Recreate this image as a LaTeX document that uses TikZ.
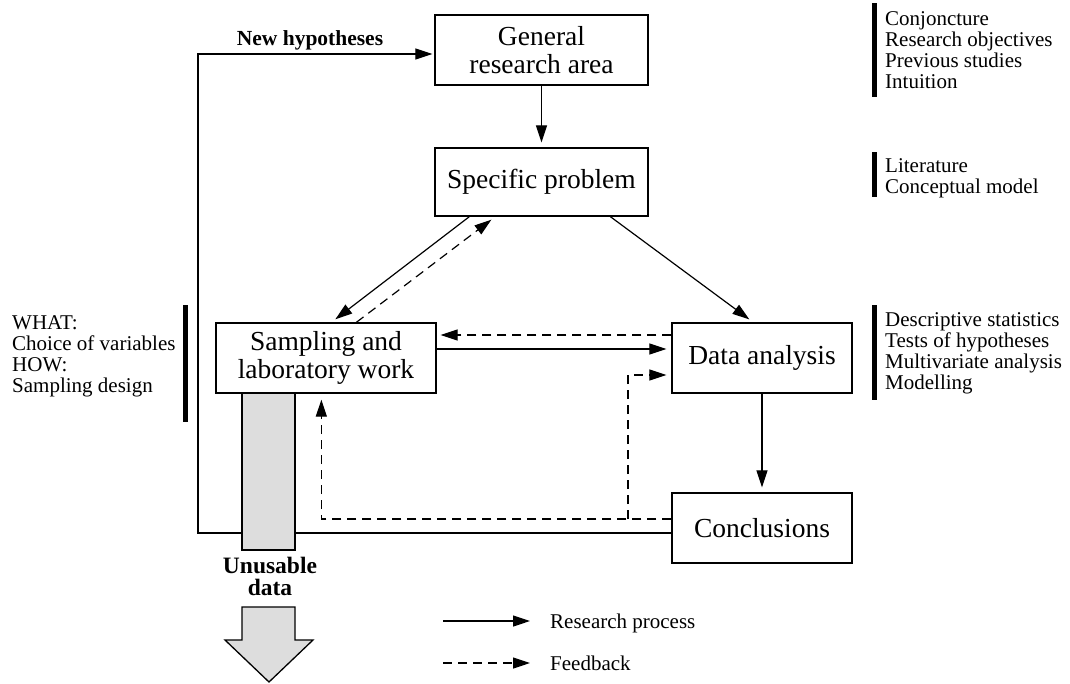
\documentclass[tikz,border=0pt]{standalone}
\usepackage{fontspec}
\setmainfont{Liberation Serif}
\usetikzlibrary{arrows.meta,calc}
\definecolor{barfill}{RGB}{221,221,221}

\begin{document}
\begin{tikzpicture}[x=1pt,y=-1pt,
  box/.style={draw,line width=1.3pt,align=center,inner sep=0pt,
    font=\fontsize{27.5}{28}\selectfont},
  flow/.style={line width=1.2pt,-{Triangle[length=17pt,width=11pt]},shorten >=5pt},
  fb/.style={flow,dash pattern=on 9pt off 6pt},
  side/.style={anchor=base west,align=left,inner sep=0pt,
    font=\fontsize{21}{21}\selectfont},
  grey/.style={draw,line width=1.3pt,fill=barfill}]

\useasboundingbox (0,0) rectangle (1070,683);

% main boxes
\node[box,minimum width=213pt,minimum height=70pt] (gen) at (541.5,50) {General\\research area};
\node[box,minimum width=213pt,minimum height=68pt] (spec) at (541.5,182) {Specific problem};
\node[box,minimum width=220pt,minimum height=70pt] (samp) at (326,358) {Sampling and\\laboratory work};
\node[box,minimum width=180pt,minimum height=70pt] (data) at (762,358) {Data analysis};
\node[box,minimum width=180pt,minimum height=70pt] (concl) at (762,528) {Conclusions};

% research process
\draw[flow] (gen) -- (spec);
\draw[flow] ($(spec.south west)+(35,0)$) -- ($(samp.north west)+(116,0)$);
\draw[flow] ($(spec.south west)+(176,0)$) -- ($(data.north west)+(82,0)$);
\draw[flow] ($(samp.east)+(0,-9)$) -- ($(data.west)+(0,-9)$);
\draw[flow] (data) -- (concl);

% loop back to new hypotheses
\coordinate (hypleft) at (198,54);
\draw[flow,shorten >=2pt] ($(concl.west)+(0,5)$) -| (hypleft) -- ($(gen.west)+(0,4)$);
\node[anchor=base,inner sep=0pt,font=\bfseries\fontsize{21.5}{22}\selectfont] (newhyp) at (310,45) {New hypotheses};

% feedback
\draw[fb,shorten >=4pt] ($(data.west)+(0,-23)$) -- ($(samp.east)+(0,-23)$);
\draw[fb] ($(samp.north west)+(141,0)$) -- ($(spec.south west)+(61,0)$);
\coordinate (fbjoin) at (628,519);
\draw[fb,shorten >=6pt] ($(concl.west)+(0,-9)$) -| ($(samp.south west)+(106,0)$);
\draw[fb] (fbjoin) |- ($(data.west)+(0,17)$);

% unusable data
\node[grey,minimum width=53pt,minimum height=157pt,inner sep=0pt] (ubar) at (268.5,471.5) {};
\node[anchor=base,align=center,inner sep=0pt,font=\bfseries\fontsize{23.5}{22}\selectfont] (ulabel) at (270,595) {Unusable\\data};
\filldraw[grey] (242,607) -- (295,607) -- (295,640) -- (313,640) -- (269,682)
  -- (225,640) -- (242,640) -- cycle;

% side notes (anchored at the baseline of the last line)
\fill (871.5,3) rectangle (876.5,97);
\node[side] (n1) at (885,88) {Conjoncture\\Research objectives\\Previous studies\\Intuition};
\fill (871.5,152) rectangle (876.5,197);
\node[side] (n2) at (885,193) {Literature\\Conceptual model};
\fill (871.5,305) rectangle (876.5,400);
\node[side] (n3) at (885,389) {Descriptive statistics\\Tests of hypotheses\\Multivariate analysis\\Modelling};
\fill (182.5,305) rectangle (187.5,422);
\node[side] (n4) at (12,392) {WHAT:\\Choice of variables\\HOW:\\Sampling design};

% legend
\coordinate (legA) at (443,621);
\coordinate (legB) at (443,663);
\node[side] (lgproc) at (550,628) {Research process};
\node[side] (lgfb) at (550,670) {Feedback};
\draw[flow,shorten >=20pt] (legA) -- (legA -| lgproc.west);
\draw[fb,shorten >=20pt] (legB) -- (legB -| lgfb.west);
\end{tikzpicture}
\end{document}
